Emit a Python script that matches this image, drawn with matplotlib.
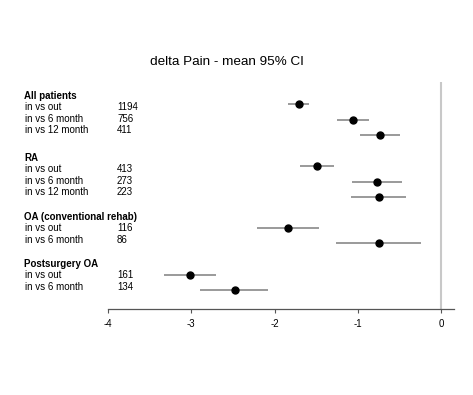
import numpy as np
import matplotlib.pyplot as plt
import matplotlib as mpl

mpl.rcParams.update({
    "font.family": "Liberation Sans",
    "font.size": 7,
})

# ---------------- data ----------------
groups = ["All patients", "RA", "OA (conventional rehab)", "Postsurgery OA"]
comparisons = [
    ["in vs out", "in vs 6 month", "in vs 12 month"],
    ["in vs out", "in vs 6 month", "in vs 12 month"],
    ["in vs out", "in vs 6 month"],
    ["in vs out", "in vs 6 month"],
]
n_counts = [
    [1194, 756, 411],
    [413, 273, 223],
    [116, 86],
    [161, 134],
]
means = [
    [-1.71, -1.06, -0.73],
    [-1.49, -0.77, -0.75],
    [-1.84, -0.75],
    [-3.02, -2.48],
]
ci_low = [
    [-1.84, -1.25, -0.97],
    [-1.69, -1.07, -1.08],
    [-2.21, -1.26],
    [-3.33, -2.89],
]
ci_high = [
    [-1.58, -0.86, -0.49],
    [-1.28, -0.47, -0.42],
    [-1.47, -0.24],
    [-2.70, -2.08],
]

W, H = 473, 395
fig = plt.figure(figsize=(W / 100, H / 100), dpi=100)

# axes box in pixels (left, top, right, bottom)
L, T, R, B = 108, 82, 454, 309
ax = fig.add_axes([L / W, 1 - B / H, (R - L) / W, (B - T) / H])

# row positions: one empty row between groups
rows = []
r = 1
for g in comparisons:
    rows.append(list(range(r, r + len(g))))
    r += len(g) + 1

row0_px, step_px = 104, 15.5
ytop = 1 + (T - row0_px) / step_px
ybot = 1 + (B - row0_px) / step_px

ax.axvline(0, color="#c8c8c8", linewidth=1.5, zorder=0)
for gi in range(len(groups)):
    for j in range(len(rows[gi])):
        y = rows[gi][j]
        ax.plot([ci_low[gi][j], ci_high[gi][j]], [y, y], color="#7f7f7f",
                linewidth=1.1, solid_capstyle="butt", zorder=2)
        ax.plot(means[gi][j], y, "o", color="black", markersize=5, zorder=3)

ax.set_xlim(-4, 0.156)
ax.set_ylim(ybot, ytop)
ax.set_xticks([-4, -3, -2, -1, 0])
ax.set_xticklabels(["-4", "-3", "-2", "-1", "0"])
ax.set_yticks([])
for s in ["top", "right", "left"]:
    ax.spines[s].set_visible(False)
ax.spines["bottom"].set_color("#555555")
ax.spines["bottom"].set_linewidth(0.9)
ax.tick_params(axis="x", direction="out", length=3, width=0.8,
               color="#555555", pad=4, labelsize=7)

# ---------------- left-hand labels ----------------
header_px = [96, 158, 217, 264]
line_px = 11.4
for gi, grp in enumerate(groups):
    y0 = header_px[gi]
    fig.text(24 / W, 1 - y0 / H, grp, fontsize=7, fontweight="bold",
             va="center", ha="left")
    for j, (lab, n) in enumerate(zip(comparisons[gi], n_counts[gi])):
        yy = y0 + (j + 1) * line_px
        fig.text(25 / W, 1 - yy / H, lab, fontsize=7, va="center", ha="left")
        fig.text(117 / W, 1 - yy / H, str(n), fontsize=7, va="center", ha="left")

fig.text(227 / W, 1 - 62 / H, "delta Pain - mean 95% CI", fontsize=9.7,
         ha="center", va="center")

fig.savefig("out.png", dpi=100)
